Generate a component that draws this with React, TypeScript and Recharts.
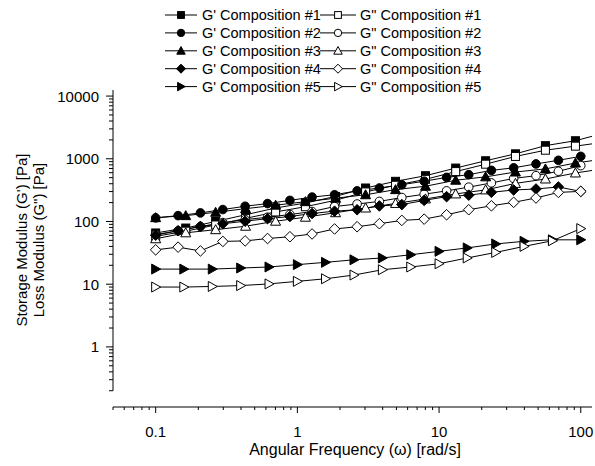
import React from 'react';
import { LineChart, Line, XAxis, YAxis, Legend, ReferenceLine } from 'recharts';

const FONT = '"Liberation Sans", Arial, Helvetica, sans-serif';

// angular frequencies (rad/s)
const freqA = [0.1, 0.144, 0.207, 0.298, 0.428, 0.616, 0.886, 1.27, 1.83, 2.64, 3.79, 5.46, 7.85, 11.3, 16.2, 23.4, 33.6, 48.3, 69.5, 100];
const freqB = [0.1, 0.163, 0.265, 0.431, 0.702, 1.14, 1.86, 3.03, 4.93, 8.02, 13.1, 21.3, 34.6, 56.3, 91.7, 149];
const freqC = [0.1, 0.158, 0.251, 0.398, 0.631, 1, 1.58, 2.51, 3.98, 6.31, 10, 15.8, 25.1, 39.8, 63.1, 100];

// moduli (Pa)
const gp1 = [65.6, 78.6, 100, 128, 164, 197, 251, 342, 437, 537, 711, 930, 1200, 1620, 1940, 2600];
const gpp1 = [58, 70, 88, 112, 142, 172, 218, 296, 378, 470, 625, 820, 1090, 1370, 1590, 1850];
const gp2 = [114, 124, 137, 155, 175, 193, 217, 245, 267, 308, 342, 386, 439, 505, 558, 654, 717, 828, 946, 1093];
const gpp2 = [62, 71, 83, 96, 107, 117, 129, 144, 173, 190, 209, 241, 272, 308, 353, 412, 486, 538, 632, 778];
const gp3 = [115, 124, 140, 160, 182, 207, 235, 267, 322, 365, 455, 515, 615, 690, 855, 1000];
const gpp3 = [53, 66, 74, 84, 101, 117, 138, 164, 194, 229, 275, 319, 405, 476, 594, 700];
const gp4 = [60.5, 71.3, 83.6, 92, 101, 111, 120, 134, 146, 154, 177, 186, 217, 249, 263, 292, 318, 330, 355, 302];
const gpp4 = [35.3, 39, 33.9, 48.1, 49, 53.5, 57.1, 63.2, 76, 82.5, 92.2, 104, 109, 128, 154, 178, 202, 237, 291, 302];
const gp5 = [17.4, 17.4, 17.4, 18.1, 18.8, 20.5, 22.3, 24.5, 26.2, 29.5, 33.4, 37.9, 43.8, 48.3, 51, 51];
const gpp5 = [9.0, 9.0, 9.2, 9.5, 10.1, 11.1, 12.2, 14.0, 17.0, 18.8, 21.2, 26.2, 32.1, 40.1, 49.3, 77];

const xMajor = [0.1, 1, 10, 100];
const xMinor = [0.05, 0.06, 0.07, 0.08, 0.09, 0.2, 0.3, 0.4, 0.5, 0.6, 0.7, 0.8, 0.9, 2, 3, 4, 5, 6, 7, 8, 9, 20, 30, 40, 50, 60, 70, 80, 90];
const yMajor = [1, 10, 100, 1000, 10000];
const yMinor = [0.2, 0.3, 0.4, 0.5, 0.6, 0.7, 0.8, 0.9, 2, 3, 4, 5, 6, 7, 8, 9, 20, 30, 40, 50, 60, 70, 80, 90, 200, 300, 400, 500, 600, 700, 800, 900, 2000, 3000, 4000, 5000, 6000, 7000, 8000, 9000];

const xLabels = ['0.1', '1', '10', '100'];
const yLabels = ['1', '10', '100', '1000', '10000'];

const toPts = (xs: number[], ys: number[]) => xs.map((x, i) => ({ x, y: ys[i] }));

type Shape = 'square' | 'circle' | 'triangle' | 'diamond' | 'tright';

const series: { name: string; shape: Shape; filled: boolean; data: { x: number; y: number }[] }[] = [
  { name: "G' Composition #1", shape: 'square', filled: true, data: toPts(freqB, gp1) },
  { name: 'G" Composition #1', shape: 'square', filled: false, data: toPts(freqB, gpp1) },
  { name: "G' Composition #2", shape: 'circle', filled: true, data: toPts(freqA, gp2) },
  { name: 'G" Composition #2', shape: 'circle', filled: false, data: toPts(freqA, gpp2) },
  { name: "G' Composition #3", shape: 'triangle', filled: true, data: toPts(freqB, gp3) },
  { name: 'G" Composition #3', shape: 'triangle', filled: false, data: toPts(freqB, gpp3) },
  { name: "G' Composition #4", shape: 'diamond', filled: true, data: toPts(freqA, gp4) },
  { name: 'G" Composition #4', shape: 'diamond', filled: false, data: toPts(freqA, gpp4) },
  { name: "G' Composition #5", shape: 'tright', filled: true, data: toPts(freqC, gp5) },
  { name: 'G" Composition #5', shape: 'tright', filled: false, data: toPts(freqC, gpp5) },
];

function Marker({ shape, filled, cx, cy, k = 1 }: { shape: Shape; filled: boolean; cx: number; cy: number; k?: number }) {
  const fill = filled ? '#000' : '#fff';
  const common = { fill, stroke: '#000', strokeWidth: 1 };
  const s = 4 * k;
  switch (shape) {
    case 'square':
      return <rect x={cx - s} y={cy - s} width={2 * s} height={2 * s} {...common} />;
    case 'circle':
      return <circle cx={cx} cy={cy} r={s + 0.3} {...common} />;
    case 'triangle':
      return <polygon points={`${cx},${cy - 5 * k} ${cx + 5 * k},${cy + 4 * k} ${cx - 5 * k},${cy + 4 * k}`} {...common} />;
    case 'diamond':
      return <polygon points={`${cx},${cy - 5.3 * k} ${cx + 5.3 * k},${cy} ${cx},${cy + 5.3 * k} ${cx - 5.3 * k},${cy}`} {...common} />;
    default:
      return <polygon points={`${cx - 4 * k},${cy - 5 * k} ${cx + 5 * k},${cy} ${cx - 4 * k},${cy + 5 * k}`} {...common} />;
  }
}

const YTick = (props: any) => {
  const { x, y, payload } = props;
  const v = payload.value;
  const mi = yMajor.indexOf(v);
  const len = mi >= 0 ? 7 : 4;
  return (
    <g>
      <line x1={x - len} x2={x} y1={y} y2={y} stroke="#000" strokeWidth={1} />
      {mi >= 0 && (
        <text x={x - len - 7} y={y} textAnchor="end" dominantBaseline="central" fontSize={15} fontFamily={FONT} fill="#000">
          {yLabels[mi]}
        </text>
      )}
    </g>
  );
};

const XTick = (props: any) => {
  const { x, y, payload } = props;
  const v = payload.value;
  const mi = xMajor.indexOf(v);
  const len = mi >= 0 ? 6 : 3;
  return (
    <g>
      <line x1={x} x2={x} y1={y} y2={y + len} stroke="#000" strokeWidth={1} />
      {mi >= 0 && (
        <text x={x} y={y + 30} textAnchor="middle" fontSize={15} fontFamily={FONT} fill="#000">
          {xLabels[mi]}
        </text>
      )}
    </g>
  );
};

const XTitle = () => (
  <text x={355} y={455} textAnchor="middle" fontSize={16} fontFamily={FONT} fill="#000">
    Angular Frequency (ω) [rad/s]
  </text>
);

const YTitle = () => (
  <g fontSize={15} fontFamily={FONT} fill="#000">
    <text transform="translate(21,240) rotate(-90)" textAnchor="middle" dominantBaseline="central">
      Storage Modulus (G') [Pa]
    </text>
    <text transform="translate(38,240) rotate(-90)" textAnchor="middle" dominantBaseline="central">
      Loss Modulus (G") [Pa]
    </text>
  </g>
);

const LegendSymbol = ({ x1, x2, shape, filled, y }: { x1: number; x2: number; shape: Shape; filled: boolean; y: number }) => (
  <g>
    <line x1={x1} x2={x2} y1={y} y2={y} stroke="#000" strokeWidth={1} />
    <Marker shape={shape} filled={filled} cx={(x1 + x2) / 2} cy={y} k={0.85} />
  </g>
);

const LegendContent = () => {
  const rows = [0, 1, 2, 3, 4];
  return (
    <svg width={595} height={96} style={{ display: 'block' }}>
      {rows.map((r) => {
        const y = 15 + r * 17.9;
        const a = series[r * 2];
        const b = series[r * 2 + 1];
        return (
          <g key={r} fontSize={14.5} fontFamily={FONT} fill="#000">
            <LegendSymbol x1={165} x2={197} y={y} shape={a.shape} filled={a.filled} />
            <text x={202} y={y} dominantBaseline="central">{a.name}</text>
            <LegendSymbol x1={320} x2={356} y={y} shape={b.shape} filled={b.filled} />
            <text x={360} y={y} dominantBaseline="central">{b.name}</text>
          </g>
        );
      })}
    </svg>
  );
};

export default function App() {
  return (
    <div style={{ position: 'absolute', left: 0, top: 0, width: 595, height: 466, background: '#fff' }}>
      <LineChart width={595} height={466} margin={{ top: 90, right: 3, bottom: 0, left: 0 }}>
        <XAxis
          dataKey="x"
          type="number"
          scale="log"
          domain={[0.05, 120]}
          allowDataOverflow
          ticks={[...xMinor, ...xMajor].sort((p, q) => p - q)}
          interval={0}
          tick={<XTick />}
          tickLine={false}
          tickSize={0}
          tickMargin={0}
          height={59}
          axisLine={{ stroke: '#000', strokeWidth: 1 }}
          label={{ content: () => <XTitle /> }}
        />
        <YAxis
          type="number"
          scale="log"
          domain={[0.11, 12500]}
          allowDataOverflow
          ticks={[...yMinor, ...yMajor].sort((p, q) => p - q)}
          interval={0}
          tick={<YTick />}
          tickLine={false}
          tickSize={0}
          tickMargin={0}
          width={113}
          axisLine={false}
          label={{ content: () => <YTitle /> }}
        />
        <ReferenceLine
          segment={[{ x: 0.05, y: 0.2 }, { x: 0.05, y: 12500 }]}
          stroke="#000"
          strokeWidth={1}
          ifOverflow="visible"
        />
        {series.map((s, si) => (
          <Line
            key={si}
            data={s.data}
            dataKey="y"
            name={s.name}
            stroke="#000"
            strokeWidth={1}
            isAnimationActive={false}
            dot={(p: any) => (
              <Marker key={`m${si}-${p.index}`} shape={s.shape} filled={s.filled} cx={p.cx} cy={p.cy} />
            )}
            activeDot={false}
          />
        ))}
        <Legend
          layout="horizontal"
          verticalAlign="middle"
          align="center"
          wrapperStyle={{ top: 0, left: 0, width: 595, height: 96 }}
          content={() => <LegendContent />}
        />
      </LineChart>
    </div>
  );
}
